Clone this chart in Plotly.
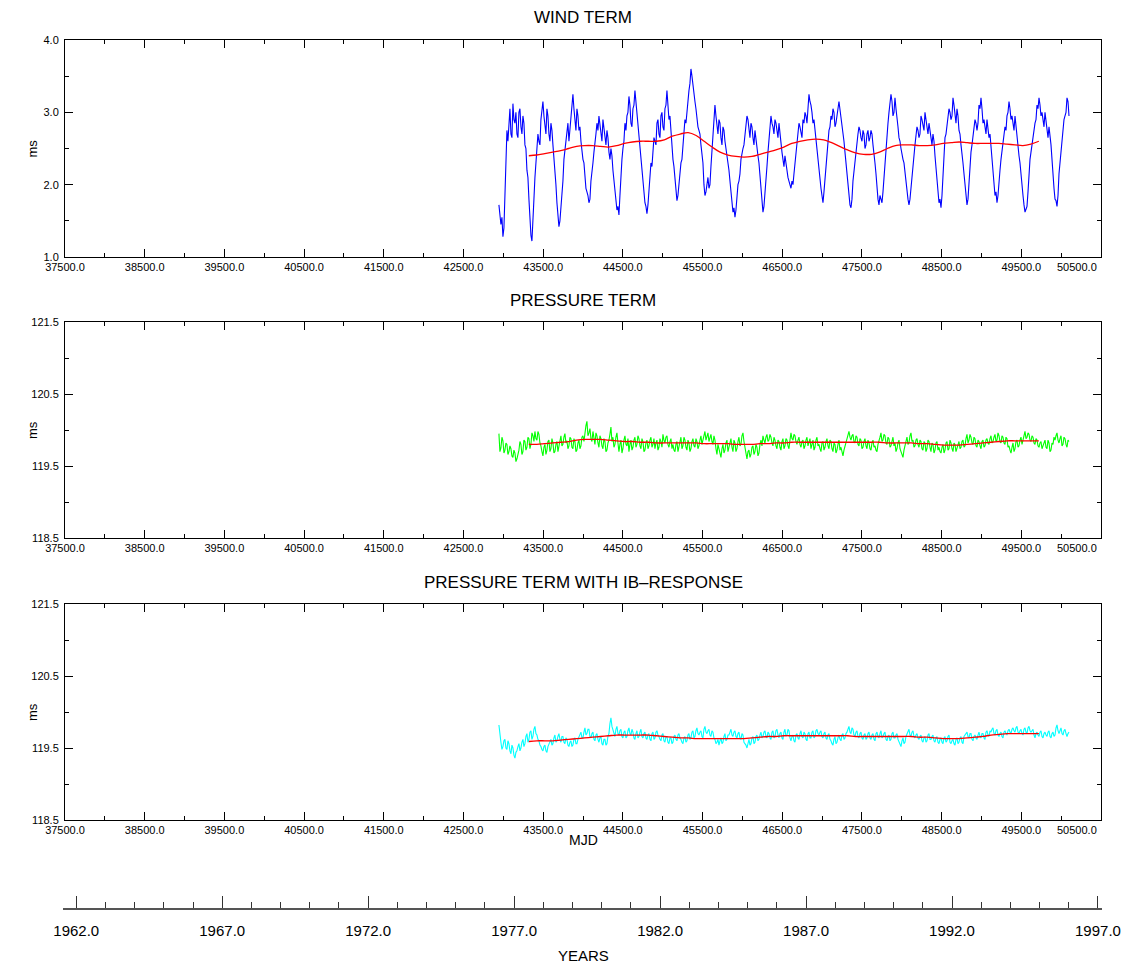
import plotly.graph_objects as go

# ---------------------------------------------------------------- data
MJD_RANGE = [37500.0, 50500.0]
YEAR_RANGE = [1961.546, 1997.138]   # same span as MJD_RANGE, in years

# all three series: one value every STEP days from START (MJD);
# the *_a lists hold the even samples, the *_b lists the odd ones
START = 42945.0
STEP = 12.55

wind_term_a = [
    1.72, 1.45, 1.28, 1.85, 2.75, 2.95, 2.7, 3.12, 2.85, 2.7,
    3.0, 2.8, 2.95, 2.55, 2.2, 1.8, 1.3, 1.45, 2.1, 2.45,
    2.6, 2.9, 3.15, 2.85, 3.05, 2.7, 2.85, 2.55, 2.15, 1.75,
    1.42, 1.65, 2.05, 2.5, 2.75, 2.6, 2.95, 3.25, 2.85, 3.05,
    2.75, 2.6, 2.35, 2.1, 1.9, 1.75, 2.05, 2.3, 2.65, 2.85,
    2.95, 2.7, 2.9, 2.65, 2.75, 2.45, 2.5, 2.2, 1.95, 1.65,
    1.58, 2.15, 2.5, 2.85, 2.95, 3.22, 2.85, 3.05, 3.3, 2.95,
    2.65, 2.3, 2.0, 1.75, 1.6, 1.95, 2.3, 2.45, 2.6, 2.85,
    2.7, 2.95, 2.8, 3.05, 3.3, 2.9, 2.7, 2.35, 2.05, 1.78,
    2.0, 2.3, 2.55, 2.9, 3.05, 3.3, 3.6, 3.35, 3.15, 2.9,
    2.75, 2.55, 2.3, 1.85, 2.05, 1.95, 2.25, 2.7, 3.1, 2.8,
    2.9, 2.65, 2.8, 2.6, 2.45, 2.2, 1.9, 1.62, 1.55, 1.85,
    2.05, 2.35, 2.5, 2.7, 2.95, 2.75, 2.85, 2.65, 2.75, 2.45,
    2.3, 1.9, 1.62, 1.85, 2.25, 2.6, 2.95, 2.8, 2.9, 2.75,
    2.85, 2.5, 2.35, 2.4, 2.15, 2.05, 1.95, 2.0, 2.3, 2.65,
    2.85, 2.7, 2.9, 3.0, 2.85, 3.25, 3.1, 2.85, 2.75, 2.5,
    2.25, 1.95, 1.75, 2.1, 2.5, 2.75, 2.95, 3.05, 2.8, 3.0,
    3.15, 2.9, 2.7, 2.45, 2.1, 1.8, 1.68, 2.05, 2.3, 2.55,
    2.8, 2.65, 2.75, 2.5, 2.7, 2.6, 2.75, 2.55, 2.3, 1.95,
    1.72, 1.8, 1.9, 2.35, 2.8, 3.0, 3.25, 2.95, 3.2, 2.85,
    2.65, 2.5, 2.35, 2.15, 1.9, 1.72, 1.95, 2.25, 2.55, 2.8,
    2.65, 2.95, 2.8, 3.0, 2.75, 2.85, 2.6, 2.7, 2.4, 2.1,
    1.75, 1.68, 2.2, 2.65, 2.85, 3.05, 2.9, 3.2, 2.95, 3.05,
    2.75, 2.55, 2.3, 2.0, 1.72, 2.05, 2.45, 2.7, 2.9, 2.75,
    3.1, 3.2, 2.85, 2.75, 2.9, 2.65, 2.55, 2.2, 1.85, 1.75,
    2.1, 2.35, 2.6, 2.8, 2.95, 3.15, 2.9, 2.8, 2.95, 2.6,
    2.4, 2.1, 1.85, 1.62, 1.7, 2.15, 2.45, 2.7, 2.85, 3.1,
    3.2, 2.95, 2.85, 3.0, 2.75, 2.8, 2.55, 2.1, 1.8, 1.7,
    2.15, 2.45, 2.8, 2.95, 3.2, 2.95,
]

wind_term_b = [
    1.62, 1.55, 1.40, 2.45, 2.6, 3.05, 2.65, 2.9, 3.0, 2.65,
    3.05, 2.7, 2.85, 2.5, 2.1, 1.5, 1.22, 1.8, 2.35, 2.7,
    2.55, 3.0, 2.95, 2.7, 2.95, 2.6, 2.75, 2.4, 2.0, 1.6,
    1.5, 1.8, 2.35, 2.55, 2.85, 2.75, 3.05, 3.05, 2.75, 2.95,
    2.8, 2.45, 2.3, 1.95, 1.85, 1.8, 2.25, 2.45, 2.7, 2.75,
    2.85, 2.6, 2.8, 2.55, 2.65, 2.35, 2.4, 2.05, 1.8, 1.7,
    1.85, 2.35, 2.6, 2.75, 3.0, 3.1, 2.8, 3.1, 3.15, 2.85,
    2.55, 2.2, 1.9, 1.7, 1.72, 2.15, 2.25, 2.65, 2.55, 2.9,
    2.65, 3.0, 2.75, 3.1, 3.1, 2.95, 2.6, 2.25, 1.9, 1.85,
    2.2, 2.35, 2.8, 2.85, 3.15, 3.4, 3.5, 3.2, 3.05, 2.8,
    2.7, 2.45, 2.0, 1.9, 2.1, 2.0, 2.5, 2.85, 2.95, 2.7,
    2.85, 2.55, 2.75, 2.5, 2.35, 2.05, 1.75, 1.68, 1.65, 2.0,
    2.15, 2.45, 2.55, 2.8, 2.9, 2.65, 2.8, 2.55, 2.6, 2.4,
    2.1, 1.75, 1.7, 2.05, 2.45, 2.75, 2.85, 2.7, 2.85, 2.65,
    2.7, 2.45, 2.25, 2.3, 2.1, 2.0, 2.05, 2.15, 2.5, 2.7,
    2.8, 2.65, 2.85, 2.95, 3.0, 3.15, 3.0, 2.9, 2.65, 2.4,
    2.1, 1.85, 1.9, 2.3, 2.6, 2.8, 2.9, 3.0, 2.85, 3.05,
    3.05, 2.85, 2.6, 2.3, 1.95, 1.72, 1.8, 2.2, 2.4, 2.7,
    2.75, 2.6, 2.7, 2.55, 2.75, 2.65, 2.7, 2.45, 2.15, 1.8,
    1.85, 1.75, 2.1, 2.6, 2.85, 3.1, 3.15, 3.0, 3.05, 2.8,
    2.6, 2.4, 2.3, 2.05, 1.8, 1.8, 2.15, 2.4, 2.65, 2.75,
    2.7, 2.9, 2.75, 2.9, 2.7, 2.75, 2.55, 2.6, 2.25, 1.95,
    1.8, 1.85, 2.45, 2.7, 2.9, 3.0, 2.95, 3.1, 2.85, 2.95,
    2.7, 2.45, 2.15, 1.85, 1.8, 2.25, 2.55, 2.75, 2.85, 2.85,
    3.05, 3.05, 2.9, 2.7, 2.8, 2.7, 2.4, 2.05, 1.9, 1.85,
    2.2, 2.45, 2.7, 2.75, 3.0, 3.05, 2.95, 2.75, 2.8, 2.55,
    2.3, 2.0, 1.72, 1.66, 1.9, 2.35, 2.55, 2.8, 2.9, 3.05,
    3.1, 3.0, 2.8, 2.9, 2.65, 2.7, 2.35, 1.95, 1.78, 1.85,
    2.3, 2.6, 2.9, 3.0, 3.15,
]

pressure_term_a = [
    119.95, 119.75, 119.85, 119.72, 119.80, 119.70, 119.74, 119.62, 119.68, 119.60,
    119.72, 119.80, 119.70, 119.84, 119.76, 119.88, 119.80, 119.92, 119.98, 119.86,
    119.94, 119.78, 119.64, 119.80, 119.72, 119.86, 119.74, 119.82, 119.70, 119.84,
    119.76, 119.92, 119.80, 119.95, 119.85, 119.78, 119.88, 119.74, 119.84, 119.72,
    119.86, 119.78, 119.92, 120.00, 120.12, 119.96, 119.88, 119.98, 119.80, 119.92,
    119.76, 119.88, 119.74, 119.84, 119.72, 119.86, 120.04, 119.90, 119.80, 119.96,
    119.70, 119.86, 119.74, 119.92, 119.78, 119.70, 119.86, 119.76, 119.90, 119.80,
    119.88, 119.74, 119.84, 119.72, 119.86, 119.78, 119.90, 119.80, 119.74, 119.86,
    119.76, 119.84, 119.94, 119.82, 119.92, 119.76, 119.88, 119.80, 119.70, 119.84,
    119.76, 119.90, 119.78, 119.86, 119.72, 119.82, 119.74, 119.88, 119.76, 119.84,
    119.78, 119.92, 119.86, 119.98, 119.90, 119.84, 119.94, 119.80, 119.86, 119.66,
    119.74, 119.62, 119.80, 119.72, 119.86, 119.76, 119.88, 119.70, 119.82, 119.74,
    119.90, 119.80, 119.96, 119.76, 119.60, 119.72, 119.66, 119.78, 119.70, 119.76,
    119.68, 119.86, 119.92, 119.82, 119.94, 119.86, 119.90, 119.78, 119.86, 119.74,
    119.84, 119.72, 119.88, 119.78, 119.86, 119.74, 119.96, 119.86, 119.92, 119.80,
    119.90, 119.76, 119.86, 119.78, 119.90, 119.82, 119.74, 119.86, 119.76, 119.90,
    119.80, 119.70, 119.84, 119.76, 119.88, 119.74, 119.84, 119.70, 119.80, 119.72,
    119.86, 119.76, 119.64, 119.78, 119.88, 119.98, 119.86, 119.94, 119.82, 119.90,
    119.78, 119.86, 119.76, 119.88, 119.74, 119.82, 119.72, 119.86, 119.78, 119.70,
    119.84, 119.96, 119.86, 119.92, 119.80, 119.88, 119.78, 119.90, 119.82, 119.74,
    119.86, 119.70, 119.62, 119.80, 119.90, 119.82, 119.96, 119.86, 119.78, 119.88,
    119.76, 119.84, 119.72, 119.82, 119.74, 119.84, 119.70, 119.80, 119.72, 119.84,
    119.76, 119.68, 119.80, 119.72, 119.84, 119.74, 119.82, 119.70, 119.80, 119.74,
    119.84, 119.76, 119.86, 119.78, 119.94, 119.86, 119.90, 119.80, 119.88, 119.76,
    119.84, 119.74, 119.86, 119.78, 119.88, 119.80, 119.92, 119.84, 119.94, 119.86,
    119.92, 119.82, 119.90, 119.80, 119.88, 119.78, 119.68, 119.82, 119.74, 119.86,
    119.78, 119.90, 119.86, 119.98, 119.90, 119.94, 119.84, 119.90, 119.80, 119.86,
    119.76, 119.84, 119.78, 119.86, 119.74, 119.82, 119.72, 119.80, 119.86, 119.96,
    119.82, 119.92, 119.80, 119.88, 119.76, 119.84,
]

pressure_term_b = [
    119.70, 119.90, 119.68, 119.82, 119.66, 119.78, 119.64, 119.72, 119.56, 119.66,
    119.84, 119.66, 119.86, 119.72, 119.90, 119.74, 119.96, 119.84, 119.88, 119.98,
    119.82, 119.70, 119.76, 119.66, 119.84, 119.70, 119.88, 119.68, 119.80, 119.70,
    119.86, 119.78, 119.90, 119.82, 119.74, 119.90, 119.76, 119.88, 119.70, 119.82,
    119.74, 119.90, 119.84, 120.06, 119.92, 120.02, 119.84, 119.86, 119.96, 119.82,
    119.92, 119.78, 119.88, 119.70, 119.82, 119.94, 119.84, 119.76, 119.90, 119.82,
    119.80, 119.68, 119.86, 119.80, 119.88, 119.80, 119.72, 119.86, 119.76, 119.92,
    119.78, 119.88, 119.70, 119.82, 119.74, 119.86, 119.76, 119.88, 119.82, 119.72,
    119.88, 119.76, 119.86, 119.90, 119.80, 119.84, 119.74, 119.72, 119.80, 119.70,
    119.84, 119.74, 119.90, 119.76, 119.86, 119.70, 119.84, 119.78, 119.88, 119.74,
    119.86, 119.80, 119.94, 119.86, 119.96, 119.88, 119.84, 119.92, 119.74, 119.80,
    119.66, 119.74, 119.68, 119.82, 119.70, 119.84, 119.76, 119.86, 119.70, 119.84,
    119.78, 119.92, 119.84, 119.66, 119.70, 119.62, 119.76, 119.66, 119.80, 119.64,
    119.80, 119.78, 119.86, 119.90, 119.84, 119.94, 119.82, 119.90, 119.78, 119.86,
    119.76, 119.84, 119.74, 119.88, 119.78, 119.86, 119.88, 119.94, 119.84, 119.86,
    119.80, 119.84, 119.74, 119.86, 119.78, 119.88, 119.80, 119.72, 119.86, 119.78,
    119.74, 119.82, 119.72, 119.84, 119.78, 119.86, 119.74, 119.82, 119.68, 119.80,
    119.72, 119.70, 119.72, 119.84, 119.94, 119.90, 119.92, 119.84, 119.92, 119.80,
    119.88, 119.74, 119.84, 119.78, 119.86, 119.74, 119.82, 119.76, 119.72, 119.80,
    119.90, 119.84, 119.94, 119.82, 119.90, 119.76, 119.86, 119.78, 119.70, 119.82,
    119.74, 119.66, 119.72, 119.88, 119.80, 119.92, 119.84, 119.76, 119.86, 119.80,
    119.86, 119.74, 119.84, 119.70, 119.86, 119.76, 119.82, 119.68, 119.82, 119.72,
    119.70, 119.76, 119.68, 119.82, 119.72, 119.86, 119.74, 119.82, 119.70, 119.80,
    119.74, 119.84, 119.76, 119.88, 119.82, 119.94, 119.82, 119.90, 119.78, 119.86,
    119.78, 119.84, 119.76, 119.86, 119.82, 119.88, 119.82, 119.90, 119.84, 119.96,
    119.84, 119.92, 119.82, 119.90, 119.76, 119.72, 119.76, 119.70, 119.84, 119.76,
    119.86, 119.80, 119.94, 119.88, 119.96, 119.86, 119.92, 119.82, 119.88, 119.78,
    119.82, 119.74, 119.84, 119.76, 119.86, 119.70, 119.82, 119.90, 119.92, 119.86,
    119.88, 119.78, 119.90, 119.80, 119.86,
]

pressure_ib_term_a = [
    119.82, 119.58, 119.52, 119.62, 119.48, 119.56, 119.42, 119.50, 119.36, 119.46,
    119.56, 119.50, 119.62, 119.56, 119.70, 119.62, 119.74, 119.66, 119.80, 119.68,
    119.60, 119.52, 119.46, 119.54, 119.44, 119.56, 119.62, 119.56, 119.68, 119.60,
    119.70, 119.58, 119.66, 119.56, 119.62, 119.52, 119.60, 119.54, 119.64, 119.56,
    119.66, 119.72, 119.64, 119.78, 119.70, 119.76, 119.64, 119.72, 119.60, 119.70,
    119.58, 119.66, 119.54, 119.62, 119.56, 119.70, 119.92, 119.74, 119.66, 119.80,
    119.68, 119.76, 119.64, 119.74, 119.66, 119.78, 119.68, 119.72, 119.62, 119.74,
    119.66, 119.76, 119.64, 119.72, 119.62, 119.70, 119.60, 119.72, 119.64, 119.74,
    119.66, 119.60, 119.70, 119.58, 119.66, 119.56, 119.64, 119.58, 119.68, 119.60,
    119.70, 119.62, 119.56, 119.66, 119.60, 119.70, 119.64, 119.74, 119.66, 119.78,
    119.68, 119.74, 119.64, 119.80, 119.70, 119.76, 119.66, 119.72, 119.62, 119.58,
    119.54, 119.64, 119.58, 119.70, 119.62, 119.68, 119.76, 119.66, 119.74, 119.64,
    119.72, 119.62, 119.68, 119.56, 119.50, 119.62, 119.56, 119.66, 119.58, 119.68,
    119.62, 119.72, 119.66, 119.74, 119.64, 119.70, 119.62, 119.74, 119.66, 119.76,
    119.64, 119.72, 119.62, 119.76, 119.68, 119.74, 119.60, 119.68, 119.58, 119.70,
    119.62, 119.74, 119.64, 119.70, 119.60, 119.72, 119.64, 119.74, 119.66, 119.76,
    119.68, 119.74, 119.64, 119.72, 119.62, 119.70, 119.60, 119.54, 119.66, 119.58,
    119.68, 119.60, 119.70, 119.64, 119.72, 119.80, 119.70, 119.76, 119.66, 119.74,
    119.64, 119.72, 119.62, 119.70, 119.64, 119.72, 119.62, 119.70, 119.60, 119.72,
    119.64, 119.74, 119.66, 119.72, 119.60, 119.68, 119.62, 119.72, 119.64, 119.70,
    119.58, 119.52, 119.64, 119.58, 119.70, 119.76, 119.66, 119.74, 119.64, 119.70,
    119.62, 119.68, 119.58, 119.66, 119.60, 119.70, 119.62, 119.68, 119.58, 119.66,
    119.56, 119.64, 119.56, 119.66, 119.60, 119.68, 119.56, 119.62, 119.54, 119.64,
    119.58, 119.66, 119.56, 119.68, 119.72, 119.64, 119.70, 119.60, 119.68, 119.62,
    119.72, 119.64, 119.70, 119.62, 119.74, 119.66, 119.72, 119.78, 119.68, 119.76,
    119.66, 119.72, 119.64, 119.74, 119.68, 119.76, 119.70, 119.78, 119.72, 119.80,
    119.70, 119.76, 119.68, 119.78, 119.70, 119.80, 119.72, 119.76, 119.64, 119.72,
    119.66, 119.74, 119.64, 119.72, 119.66, 119.74, 119.64, 119.72, 119.68, 119.82,
    119.70, 119.78, 119.68, 119.76, 119.66, 119.72,
]

pressure_ib_term_b = [
    119.66, 119.48, 119.60, 119.50, 119.60, 119.46, 119.54, 119.40, 119.44, 119.52,
    119.46, 119.58, 119.52, 119.66, 119.58, 119.72, 119.62, 119.76, 119.70, 119.62,
    119.54, 119.48, 119.52, 119.46, 119.52, 119.60, 119.54, 119.64, 119.58, 119.66,
    119.62, 119.66, 119.58, 119.64, 119.54, 119.58, 119.52, 119.62, 119.56, 119.62,
    119.70, 119.64, 119.72, 119.68, 119.76, 119.66, 119.70, 119.62, 119.68, 119.62,
    119.64, 119.56, 119.62, 119.54, 119.66, 119.84, 119.80, 119.70, 119.76, 119.70,
    119.74, 119.66, 119.72, 119.64, 119.74, 119.70, 119.76, 119.64, 119.70, 119.64,
    119.72, 119.66, 119.70, 119.64, 119.68, 119.62, 119.70, 119.62, 119.72, 119.68,
    119.62, 119.68, 119.60, 119.66, 119.58, 119.64, 119.56, 119.66, 119.62, 119.68,
    119.64, 119.58, 119.64, 119.58, 119.68, 119.62, 119.72, 119.64, 119.74, 119.70,
    119.72, 119.66, 119.76, 119.72, 119.74, 119.68, 119.74, 119.64, 119.56, 119.62,
    119.60, 119.56, 119.66, 119.60, 119.68, 119.72, 119.68, 119.72, 119.66, 119.70,
    119.64, 119.70, 119.58, 119.54, 119.58, 119.54, 119.64, 119.56, 119.66, 119.60,
    119.68, 119.64, 119.72, 119.66, 119.72, 119.64, 119.72, 119.64, 119.74, 119.68,
    119.70, 119.64, 119.72, 119.66, 119.76, 119.64, 119.66, 119.60, 119.68, 119.64,
    119.70, 119.66, 119.72, 119.62, 119.70, 119.64, 119.72, 119.64, 119.74, 119.70,
    119.72, 119.66, 119.70, 119.64, 119.68, 119.62, 119.56, 119.62, 119.56, 119.64,
    119.62, 119.68, 119.62, 119.70, 119.76, 119.72, 119.78, 119.68, 119.72, 119.66,
    119.70, 119.64, 119.68, 119.62, 119.70, 119.64, 119.68, 119.62, 119.70, 119.66,
    119.70, 119.64, 119.70, 119.62, 119.66, 119.60, 119.70, 119.64, 119.68, 119.62,
    119.54, 119.60, 119.56, 119.66, 119.74, 119.68, 119.72, 119.66, 119.68, 119.64,
    119.66, 119.60, 119.64, 119.58, 119.68, 119.62, 119.66, 119.60, 119.64, 119.58,
    119.62, 119.58, 119.64, 119.58, 119.66, 119.58, 119.60, 119.56, 119.62, 119.56,
    119.64, 119.58, 119.66, 119.70, 119.66, 119.70, 119.62, 119.66, 119.64, 119.68,
    119.66, 119.70, 119.64, 119.72, 119.68, 119.74, 119.76, 119.70, 119.74, 119.68,
    119.70, 119.66, 119.72, 119.70, 119.74, 119.72, 119.76, 119.74, 119.78, 119.72,
    119.74, 119.70, 119.76, 119.72, 119.78, 119.74, 119.74, 119.68, 119.70, 119.68,
    119.72, 119.66, 119.70, 119.68, 119.72, 119.66, 119.70, 119.66, 119.78, 119.74,
    119.74, 119.70, 119.74, 119.70, 119.70,
]

# smoothed curves: one value every SMOOTH_STEP days from SMOOTH_START (MJD)
SMOOTH_START = 43320.0
SMOOTH_STEP = 100.0

wind_smooth = [
    2.40, 2.41, 2.43, 2.45, 2.47, 2.50, 2.53, 2.54, 2.54, 2.53,
    2.52, 2.54, 2.57, 2.59, 2.60, 2.60, 2.60, 2.62, 2.67, 2.70,
    2.72, 2.68, 2.60, 2.52, 2.45, 2.41, 2.39, 2.38, 2.39, 2.42,
    2.45, 2.48, 2.52, 2.57, 2.60, 2.62, 2.63, 2.62, 2.58, 2.53,
    2.48, 2.44, 2.42, 2.42, 2.45, 2.50, 2.54, 2.55, 2.55, 2.54,
    2.54, 2.55, 2.57, 2.58, 2.59, 2.58, 2.57, 2.57, 2.57, 2.57,
    2.56, 2.55, 2.54, 2.56, 2.60,
]

pressure_smooth = [
    119.80, 119.80, 119.81, 119.82, 119.83, 119.84, 119.86, 119.87, 119.87, 119.87,
    119.86, 119.85, 119.84, 119.84, 119.83, 119.83, 119.82, 119.82, 119.82, 119.82,
    119.82, 119.82, 119.81, 119.81, 119.81, 119.81, 119.80, 119.80, 119.80, 119.81,
    119.81, 119.82, 119.82, 119.83, 119.83, 119.83, 119.83, 119.83, 119.83, 119.83,
    119.83, 119.83, 119.83, 119.83, 119.83, 119.82, 119.82, 119.82, 119.82, 119.81,
    119.81, 119.80, 119.79, 119.79, 119.79, 119.80, 119.81, 119.82, 119.83, 119.84,
    119.85, 119.85, 119.85, 119.85, 119.85,
]

pressure_ib_smooth = [
    119.59, 119.60, 119.60, 119.60, 119.61, 119.62, 119.63, 119.64, 119.65, 119.66,
    119.67, 119.68, 119.68, 119.68, 119.68, 119.68, 119.67, 119.66, 119.65, 119.64,
    119.64, 119.63, 119.63, 119.63, 119.63, 119.63, 119.63, 119.63, 119.64, 119.65,
    119.66, 119.66, 119.67, 119.67, 119.67, 119.67, 119.67, 119.67, 119.67, 119.67,
    119.67, 119.66, 119.66, 119.66, 119.66, 119.66, 119.66, 119.66, 119.66, 119.65,
    119.65, 119.64, 119.63, 119.63, 119.63, 119.64, 119.65, 119.66, 119.68, 119.69,
    119.70, 119.70, 119.70, 119.70, 119.70,
]

panel_titles = ["WIND TERM", "PRESSURE TERM", "PRESSURE TERM WITH IB\u2013RESPONSE"]
panel_yranges = [[1.0, 4.0], [118.5, 121.5], [118.5, 121.5]]
series_colors = ["#0000ff", "#00ff00", "#00ffff"]

# ---------------------------------------------------------------- layout geometry (pixels)
W, H = 1124, 965
FRAME_LEFT, FRAME_RIGHT = 65, 1101
PANEL_ROWS = [(40, 257), (322, 538), (604, 820)]
YEAR_LINE_Y = 908
FONT = "Liberation Sans, Arial, Helvetica, sans-serif"


def fx(px):
    return px / W


def fy(py):
    return 1 - py / H


def sample_times(start, step, n):
    return [start + i * step for i in range(n)]


def merge_even_odd(even, odd):
    """Put the even and odd samples back into one time-ordered series."""
    out = []
    for i, a in enumerate(even):
        out.append(a)
        if i < len(odd):
            out.append(odd[i])
    return out


wind_term = merge_even_odd(wind_term_a, wind_term_b)
pressure_term = merge_even_odd(pressure_term_a, pressure_term_b)
pressure_ib_term = merge_even_odd(pressure_ib_term_a, pressure_ib_term_b)

fig = go.Figure()

panels = [
    (wind_term, wind_smooth),
    (pressure_term, pressure_smooth),
    (pressure_ib_term, pressure_ib_smooth),
]

for i, (vals, smooth) in enumerate(panels):
    suffix = "" if i == 0 else str(i + 1)
    fig.add_trace(go.Scatter(
        x=sample_times(START, STEP, len(vals)), y=vals,
        mode="lines", line=dict(color=series_colors[i], width=1.1),
        xaxis="x" + suffix, yaxis="y" + suffix, showlegend=False, hoverinfo="skip",
    ))
    fig.add_trace(go.Scatter(
        x=sample_times(SMOOTH_START, SMOOTH_STEP, len(smooth)), y=smooth,
        mode="lines", line=dict(color="#ff0000", width=1.3, shape="spline"),
        xaxis="x" + suffix, yaxis="y" + suffix, showlegend=False, hoverinfo="skip",
    ))

# invisible carrier so the calendar-year axis is laid out
fig.add_trace(go.Scatter(
    x=YEAR_RANGE, y=[0, 0], xaxis="x4", yaxis="y4", mode="lines",
    line=dict(width=0, color="rgba(0,0,0,0)"), showlegend=False, hoverinfo="skip",
))

layout = dict(
    width=W, height=H,
    margin=dict(l=0, r=0, t=0, b=0, autoexpand=False),
    paper_bgcolor="white", plot_bgcolor="white",
    font=dict(family=FONT, color="black"),
    showlegend=False,
    annotations=[],
)

# MJD tick labels; the one at the right end is set flush with the frame
mjd_tickvals = [MJD_RANGE[0] + 1000 * k for k in range(int((MJD_RANGE[1] - MJD_RANGE[0]) // 1000) + 1)]
mjd_ticktext = ["%.1f" % v for v in mjd_tickvals[:-1]] + [""]

for i, ((top, bottom), yr) in enumerate(zip(PANEL_ROWS, panel_yranges)):
    suffix = "" if i == 0 else str(i + 1)
    layout["xaxis" + suffix] = dict(
        domain=[fx(FRAME_LEFT), fx(FRAME_RIGHT)], anchor="y" + suffix,
        range=MJD_RANGE, tickmode="array", tickvals=mjd_tickvals, ticktext=mjd_ticktext,
        showline=True, linecolor="black", linewidth=1, mirror="ticks",
        ticks="inside", ticklen=8, tickwidth=1, tickcolor="black",
        minor=dict(tickmode="linear", tick0=38000, dtick=1000, ticks="inside",
                   ticklen=4, tickcolor="black"),
        showgrid=False, zeroline=False, automargin=False,
        tickfont=dict(size=11, family=FONT, color="black"),
        ticklabelstandoff=0,
    )
    layout["yaxis" + suffix] = dict(
        domain=[fy(bottom), fy(top)], anchor="x" + suffix,
        range=yr, tick0=yr[0], dtick=1.0, tickformat=".1f",
        showline=True, linecolor="black", linewidth=1, mirror="ticks",
        ticks="inside", ticklen=8, tickwidth=1, tickcolor="black",
        minor=dict(dtick=0.5, ticks="inside", ticklen=4, tickcolor="black"),
        showgrid=False, zeroline=False, automargin=False,
        tickfont=dict(size=11, family=FONT, color="black"),
        ticklabelstandoff=3,
    )
    layout["annotations"].append(dict(
        text="%.1f" % MJD_RANGE[1], x=fx(FRAME_RIGHT - 2), y=fy(bottom + 10),
        xref="paper", yref="paper", showarrow=False, xanchor="right", yanchor="middle",
        font=dict(size=11, family=FONT, color="black"),
    ))
    layout["annotations"].append(dict(
        text=panel_titles[i], x=fx((FRAME_LEFT + FRAME_RIGHT) / 2), y=fy(top - 22),
        xref="paper", yref="paper", showarrow=False, xanchor="center", yanchor="middle",
        font=dict(size=17, family=FONT, color="black"),
    ))
    layout["annotations"].append(dict(
        text="ms", x=fx(32), y=fy((top + bottom) / 2), textangle=-90,
        xref="paper", yref="paper", showarrow=False, xanchor="center", yanchor="middle",
        font=dict(size=13, family=FONT, color="black"),
    ))

# separate calendar-year scale under the panels
layout["xaxis4"] = dict(
    domain=[fx(FRAME_LEFT - 2), fx(FRAME_RIGHT + 1)], anchor="y4",
    range=YEAR_RANGE, tick0=1962, dtick=5, tickformat=".1f",
    showline=True, linecolor="#555555", linewidth=1.5,
    ticks="inside", ticklen=12, tickwidth=1, tickcolor="#333333",
    minor=dict(dtick=1, ticks="inside", ticklen=6, tickcolor="#333333"),
    showgrid=False, zeroline=False, automargin=False, fixedrange=True,
    tickfont=dict(size=15, family=FONT, color="black"),
    ticklabelstandoff=8,
)
layout["yaxis4"] = dict(
    domain=[fy(YEAR_LINE_Y), fy(YEAR_LINE_Y - 4)], anchor="x4",
    visible=False, range=[0, 1], automargin=False, fixedrange=True,
)

layout["annotations"].append(dict(
    text="MJD", x=fx((FRAME_LEFT + FRAME_RIGHT) / 2), y=fy(840),
    xref="paper", yref="paper", showarrow=False, xanchor="center", yanchor="middle",
    font=dict(size=14, family=FONT, color="black"),
))
layout["annotations"].append(dict(
    text="YEARS", x=fx((FRAME_LEFT + FRAME_RIGHT) / 2), y=fy(955),
    xref="paper", yref="paper", showarrow=False, xanchor="center", yanchor="middle",
    font=dict(size=15, family=FONT, color="black"),
))

fig.update_layout(**layout)
fig.write_html("out.html")
